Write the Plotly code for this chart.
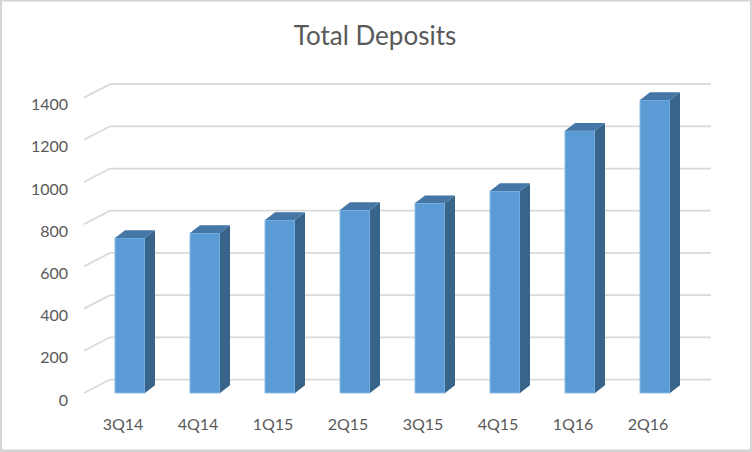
'''
Total Deposits, drawn as an Excel style 3D column chart
'''

import plotly.graph_objects as go

quarters = ['3Q14', '4Q14', '1Q15', '2Q15', '3Q15', '4Q15', '1Q16', '2Q16']
deposits = [735, 758, 820, 867, 900, 957, 1243, 1389]
y_ticks = [0, 200, 400, 600, 800, 1000, 1200, 1400]

# Pixel layout of the original picture
WIDTH, HEIGHT = 752, 452
LEFT, RIGHT, TOP, BOTTOM = 72, 740, 60, 412
PX_PER_CAT = 75
PX_PER_UNIT = 0.211
FIRST_BAR_PX = 130
BASE_PX = 393

x_range = [(LEFT - FIRST_BAR_PX) / PX_PER_CAT, (RIGHT - FIRST_BAR_PX) / PX_PER_CAT]
y_range = [(BASE_PX - BOTTOM) / PX_PER_UNIT, (BASE_PX - TOP) / PX_PER_UNIT]

bar_width = 30 / PX_PER_CAT
bar_dx = 10 / PX_PER_CAT
bar_dy = 7.7 / PX_PER_UNIT
wall_dx = 26 / PX_PER_CAT
wall_dy = 13.5 / PX_PER_UNIT
wall_left = (84 - FIRST_BAR_PX) / PX_PER_CAT
wall_right = (711 - FIRST_BAR_PX) / PX_PER_CAT

positions = list(range(len(quarters)))

# Gridlines run along the side wall, then across the back wall
grid_shapes = []
for tick in y_ticks:
    grid_shapes.append(dict(
        type='path',
        path=f'M {wall_left},{tick} L {wall_left + wall_dx},{tick + wall_dy} L {wall_right},{tick + wall_dy}',
        line=dict(color='#D9D9D9', width=1.75),
        layer='below',
    ))


# Grey frame round the picture, given in page pixels
def edge(x0, x1, y0, y1):
    plot_w = RIGHT - LEFT
    plot_h = BOTTOM - TOP
    return dict(type='rect', xref='paper', yref='paper', fillcolor='#D4D4D4', line=dict(width=0),
                x0=(x0 - LEFT) / plot_w, x1=(x1 - LEFT) / plot_w,
                y0=(BOTTOM - y1) / plot_h, y1=(BOTTOM - y0) / plot_h)


edge_shapes = [
    edge(750, WIDTH, 0, HEIGHT),
    edge(0, WIDTH, 449.5, HEIGHT),
    edge(0, 2, 0, HEIGHT),
    edge(0, WIDTH, 0, 1.5),
]

# Side and top faces of each column
side_x, side_y, top_x, top_y = [], [], [], []
for pos, value in zip(positions, deposits):
    right = pos + bar_width / 2
    left = pos - bar_width / 2
    side_x += [right, right + bar_dx, right + bar_dx, right, right, None]
    side_y += [0, bar_dy, value + bar_dy, value, 0, None]
    top_x += [left, left + bar_dx, right + bar_dx, right, left, None]
    top_y += [value, value + bar_dy, value + bar_dy, value, value, None]

fig = go.Figure()

fig.add_trace(go.Bar(
    x=positions, y=deposits, width=bar_width,
    marker=dict(color='#5B9BD5', line=dict(color='#8DBBE6', width=1)),
    showlegend=False,
))
fig.add_trace(go.Scatter(
    x=side_x, y=side_y, mode='lines', fill='toself', fillcolor='#39648A',
    line=dict(width=0, color='#39648A'), showlegend=False,
))
fig.add_trace(go.Scatter(
    x=top_x, y=top_y, mode='lines', fill='toself', fillcolor='#4476A6',
    line=dict(width=0, color='#4476A6'), showlegend=False,
))

fig.update_layout(
    width=WIDTH,
    height=HEIGHT,
    margin=dict(l=LEFT, r=WIDTH - RIGHT, t=TOP, b=HEIGHT - BOTTOM, autoexpand=False),
    paper_bgcolor='white',
    plot_bgcolor='white',
    font=dict(family='Lato', color='#595959'),
    title=dict(text='Total Deposits', font=dict(size=26, color='#595959'),
               x=375 / WIDTH, xanchor='center', y=1 - 36 / HEIGHT, yanchor='middle'),
    shapes=grid_shapes + edge_shapes,
    xaxis=dict(range=x_range, tickmode='array', tickvals=positions, ticktext=quarters,
               showgrid=False, zeroline=False, showline=False, ticks='',
               tickfont=dict(size=16), ticklabelshift=-7, ticklabelstandoff=1),
    yaxis=dict(range=y_range, tickmode='array', tickvals=y_ticks,
               showgrid=False, zeroline=False, showline=False, ticks='',
               tickfont=dict(size=16), ticklabelshift=7, ticklabelstandoff=3),
)

fig.write_html('out.html', config=dict(displayModeBar=False),
               post_script="document.body.style.margin='0';")
